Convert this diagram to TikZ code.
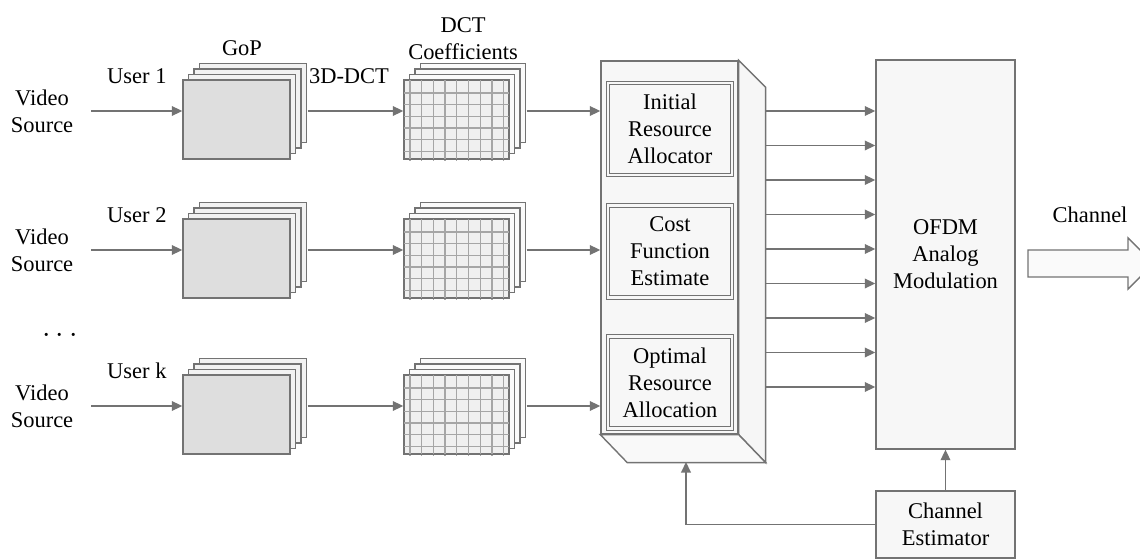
\documentclass[tikz,border=0pt]{standalone}
\usepackage{fontspec}
\setmainfont{Liberation Serif}
\usetikzlibrary{arrows.meta}

\definecolor{linegray}{RGB}{115,115,115}
\definecolor{gopfill}{RGB}{222,222,222}
\definecolor{dctfill}{RGB}{240,240,240}
\definecolor{boxfill}{RGB}{247,247,247}

\begin{document}
\begin{tikzpicture}[x=0.02cm,y=-0.02cm,
    font=\fontsize{12.8}{15.4}\selectfont,line width=0.8pt,
    flow/.style={draw=linegray,-{Triangle[length=6pt,width=5.5pt]}},
    layer/.style={draw=linegray,fill=#1},
    gridline/.style={draw=gray!70,line width=0.7pt},
    src/.style={align=center,inner xsep=10pt},
    gopbox/.style={draw=linegray,fill=gopfill,minimum width=2.14cm,minimum height=1.58cm,inner sep=0pt},
    dctbox/.style={draw=linegray,fill=dctfill,minimum width=2.1cm,minimum height=1.58cm,inner sep=0pt},
    stage/.style={draw=linegray,double=boxfill,double distance=1.2pt,fill=boxfill,align=center,
      minimum width=2.48cm,minimum height=1.84cm,inner sep=0pt},
    bigbox/.style={draw=linegray,fill=boxfill,align=center,inner sep=0pt},
    face/.style={draw=linegray,fill=gray!#1}]
  \useasboundingbox (0,0) rectangle (1140,560);
  \clip (0,0) rectangle (1140,560);

  % labels on top
  \node (goplabel) at (242,48) {GoP};
  \node[align=center] (dctlabel) at (463,39) {DCT\\Coefficients};
  \node (transform) at (349,76) {3D-DCT};
  \node[font=\fontsize{16}{16}\selectfont] (dots) at (60,336) {$\cdots$};

  % allocator block
  \node[bigbox,minimum width=2.74cm,minimum height=7.46cm] (alloc) at (669.5,247.5) {};
  \draw[face=7] (alloc.north east) -- ++(27,27) -- ([shift={(27,28)}]alloc.south east) -- (alloc.south east) -- cycle;
  \draw[face=5] (alloc.south west) -- (alloc.south east) -- ++(27,28) -- ([shift={(27,28)}]alloc.south west) -- cycle;
  \node[stage] (init) at (670,129) {Initial\\Resource\\Allocator};
  \node[stage] (cost) at (670,251.5) {Cost\\Function\\Estimate};
  \node[stage] (opt) at (670,382.5) {Optimal\\Resource\\Allocation};

  % users
  \foreach \i/\y/\u in {1/111/1,2/250/2,3/406/k} {
    \node[src] (src\i) at (42,\y) {Video\\Source};
    \foreach \k in {3,2,1}
      \draw[layer=gray!10] (183+5.5*\k,\y-31-5.5*\k) rectangle (290+5.5*\k,\y+48-5.5*\k);
    \node[gopbox] (gop\i) at (236.5,\y+8.5) {};
    \foreach \k in {3,2,1}
      \draw[layer=gray!4] (404+5.5*\k,\y-31-5.5*\k) rectangle (509+5.5*\k,\y+48-5.5*\k);
    \node[dctbox] (dct\i) at (456.5,\y+8.5) {};
    \foreach \c in {0,...,8}
      \draw[gridline] (410+11.7*\c,\y-31) -- (410+11.7*\c,\y+50);
    \foreach \r in {0,...,5}
      \draw[gridline] (404,\y-18+11.7*\r) -- (509,\y-18+11.7*\r);
    \draw[linegray] (dct\i.north west) rectangle (dct\i.south east);
    \draw[flow] (src\i.east) -- (src\i.east -| gop\i.west) node[midway,above=12pt,black] {User \u};
    \draw[flow] ([xshift=0.34cm]gop\i.east |- src\i.east) -- (dct\i.west |- src\i.east);
    \draw[flow] ([xshift=0.34cm]dct\i.east |- src\i.east) -- (alloc.west |- src\i.east);
  }

  % modulation and channel
  \node[bigbox,minimum width=2.78cm,minimum height=7.78cm] (ofdm) at (945.5,254.5) {OFDM\\Analog\\Modulation};
  \node[bigbox,minimum width=2.78cm,minimum height=1.34cm] (est) at (945.5,524.5) {Channel\\Estimator};
  \foreach \j in {0,...,8} {
    \coordinate (out\j) at (765,111+34.5*\j);
    \draw[flow] (out\j) -- (out\j -| ofdm.west);
  }
  \draw[flow] (est.north) -- (ofdm.south);
  \coordinate (fb) at (686,462);
  \draw[flow] (est.west) -| (fb);

  \node (chanlabel) at (1090,215) {Channel};
  \coordinate (chan) at (1028,263.5);
  \draw[face=4] (chan) ++(0,-13.5) -- ++(100,0) -- ++(0,-12) -- ++(25.5,25.5) -- ++(-25.5,25.5) -- ++(0,-12) -- ++(-100,0) -- cycle;
\end{tikzpicture}
\end{document}
